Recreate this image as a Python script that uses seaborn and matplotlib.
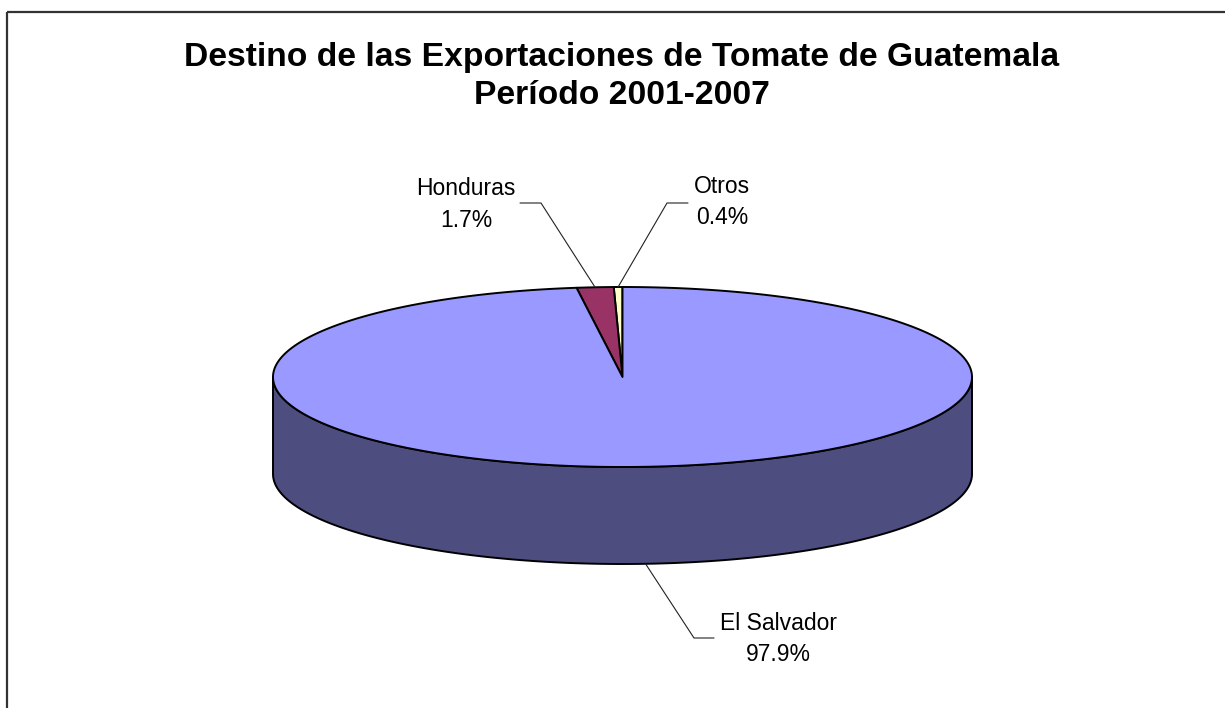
import numpy as np
import matplotlib
matplotlib.use('Agg')
import matplotlib.pyplot as plt
from matplotlib.patches import Polygon
import seaborn as sns

# data
countries = ['El Salvador', 'Honduras', 'Otros']
shares = [97.9, 1.7, 0.4]
top_colors = ['#9999FF', '#993366', '#FFFFCC']
side_colors = ['#4D4D80', '#4D1A33', '#80806A']
title_lines = ['Destino de las Exportaciones de Tomate de Guatemala',
               'Período 2001-2007']

sns.set_theme(style='white')
plt.rcParams['font.family'] = ['Liberation Sans', 'DejaVu Sans']
plt.rcParams['text.color'] = 'black'

fig = plt.figure(figsize=(12.25, 7.08), dpi=100)
ax = fig.add_axes([0, 0, 1, 1])
ax.set_xlim(0, 1225)
ax.set_ylim(708, 0)
ax.axis('off')

# chart area border (only top and left visible)
ax.plot([7, 1225], [12, 12], color='#333333', lw=1.6, solid_capstyle='butt')
ax.plot([7, 7], [12, 708], color='#333333', lw=1.6, solid_capstyle='butt')

for line, yb in zip(title_lines, [66, 104]):
    ax.text(622, yb, line, ha='center', va='baseline', fontsize=24.2,
            weight='bold')

# pseudo 3d pie geometry (pixels)
cx, cy, rx, ry, depth = 622.5, 377, 349.5, 90, 97


def ell(t):
    t = np.radians(t)
    return cx + rx * np.cos(t), cy - ry * np.sin(t)


# slices go counter-clockwise starting at 12 o'clock, last item first
order = [2, 1, 0]
start = 90.0
angles = {}
for i in order:
    span = shares[i] * 3.6
    angles[i] = (start, start + span)
    start += span

# side wall: front half of the cylinder (all El Salvador here)
for i in order:
    a0, a1 = angles[i]
    lo, hi = max(a0, 180), min(a1, 360)
    lo2, hi2 = max(a0 - 360, 180), min(a1 - 360, 360)
    for s, e in [(lo, hi), (lo2, hi2)]:
        if e <= s:
            continue
        t = np.linspace(s, e, 200)
        x, y = ell(t)
        pts = np.column_stack([np.r_[x, x[::-1]], np.r_[y, y[::-1] + depth]])
        ax.add_patch(Polygon(pts, closed=True, fc=side_colors[i],
                             ec='black', lw=1.4, joinstyle='round'))

# top face wedges
for i in order:
    a0, a1 = angles[i]
    t = np.linspace(a0, a1, max(int((a1 - a0) * 2), 4))
    x, y = ell(t)
    pts = np.column_stack([np.r_[cx, x], np.r_[cy, y]])
    ax.add_patch(Polygon(pts, closed=True, fc=top_colors[i],
                         ec='black', lw=1.4, joinstyle='round'))

# labels with leader lines
label_fs = 16.5
mid = {i: (angles[i][0] + angles[i][1]) / 2 for i in order}


def label(i, x, y1, y2):
    ax.text(x, y1, countries[i], ha='center', va='baseline', fontsize=label_fs)
    ax.text(x, y2, f'{shares[i]:.1f}%', ha='center', va='baseline',
            fontsize=label_fs)


# Honduras
x0, y0 = ell(mid[1])
ax.plot([x0, 541, 520], [y0, 203, 203], color='#222222', lw=0.8)
label(1, 466, 195, 227)

# Otros
x0, y0 = ell(mid[2])
ax.plot([x0, 667, 688], [y0, 203, 203], color='#222222', lw=0.8)
label(2, 722, 193, 224)

# El Salvador (bottom of the wall)
x0, y0 = ell(mid[0])
ax.plot([x0, 694, 714], [y0 + depth, 638, 638], color='#222222', lw=0.8)
label(0, 778, 630, 661)

fig.savefig('out.png', dpi=100, facecolor='white')
